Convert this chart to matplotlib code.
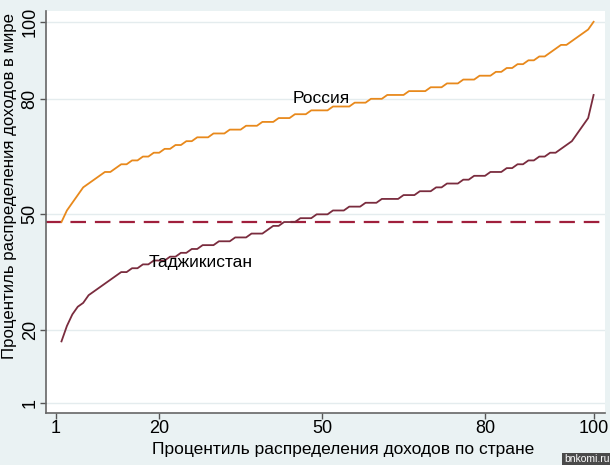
import numpy as np
import matplotlib
matplotlib.use('Agg')
import matplotlib.pyplot as plt

plt.rcParams['font.family'] = ['Liberation Sans', 'DejaVu Sans']

# country percentile (x) -> world percentile (y)
pct = list(range(2, 101))
russia = [48, 51, 53, 55, 57, 58, 59, 60, 61, 61, 62, 63, 63, 64, 64, 65, 65, 66, 66,
          67, 67, 68, 68, 69, 69, 70, 70, 70, 71, 71, 71, 72, 72, 72, 73, 73, 73, 74, 74,
          74, 75, 75, 75, 76, 76, 76, 77, 77, 77, 77, 78, 78, 78, 78, 79, 79, 79, 80, 80,
          80, 81, 81, 81, 81, 82, 82, 82, 82, 83, 83, 83, 84, 84, 84, 85, 85, 85, 86, 86,
          86, 87, 87, 88, 88, 89, 89, 90, 90, 91, 91, 92, 93, 94, 94, 95, 96, 97, 98, 100]
tajik = [17, 21, 24, 26, 27, 29, 30, 31, 32, 33, 34, 35, 35, 36, 36, 37, 37, 38, 38,
         38, 39, 39, 40, 40, 41, 41, 42, 42, 42, 43, 43, 43, 44, 44, 44, 45, 45, 45, 46,
         47, 47, 48, 48, 48, 49, 49, 49, 50, 50, 50, 51, 51, 51, 52, 52, 52, 53, 53, 53,
         54, 54, 54, 54, 55, 55, 55, 56, 56, 56, 57, 57, 58, 58, 58, 59, 59, 60, 60, 60,
         61, 61, 61, 62, 62, 63, 63, 64, 64, 65, 65, 66, 66, 67, 68, 69, 71, 73, 75, 81]
ref_level = 48
ticks = [1, 20, 50, 80, 100]

bg = '#eaf2f3'
fig = plt.figure(figsize=(6.1, 4.65), dpi=100, facecolor=bg)
ax = fig.add_axes([0.0754, 0.1118, 0.9164, 0.8645], facecolor='white')

ax.set_xlim(-0.85, 102.1)
ax.set_ylim(-1.6, 102.8)
for t in ticks:
    ax.axhline(t, color='#e4ecee', lw=1.0, zorder=0)

ax.plot(pct, russia, color='#e8891c', lw=1.3, zorder=3)
ax.plot(pct, tajik, color='#7a2c3e', lw=1.3, zorder=3)
ax.axhline(ref_level, color='#a01f3c', lw=1.6, dashes=(7, 4), zorder=2)

ax.text(44.5, 80, 'Россия', fontsize=12.5, va='center', ha='left', zorder=4)
ax.text(18, 37.5, 'Таджикистан', fontsize=12.5, va='center', ha='left', zorder=4)

ax.set_xticks(ticks)
ax.set_yticks(ticks)
ax.set_xticklabels([str(t) for t in ticks], fontsize=13)
ax.set_yticklabels([str(t) for t in ticks], fontsize=13, rotation=90, va='center')
ax.tick_params(axis='both', direction='out', length=4.3, width=1, color='#555555', pad=1)

for s in ['top', 'right']:
    ax.spines[s].set_visible(False)
for s in ['left', 'bottom']:
    ax.spines[s].set_color('#666666')
    ax.spines[s].set_linewidth(1.2)

fig.text(0.562, 0.034, 'Процентиль распределения доходов по стране', fontsize=12.5,
         ha='center', va='center')
fig.text(0.016, 0.228, 'Процентиль распределения доходов в мире', fontsize=12.1,
         rotation=90, ha='center', va='bottom')
fig.text(0.999, 0.002, 'bnkomi.ru', fontsize=7.5, color='white', ha='right', va='bottom',
         bbox=dict(boxstyle='square,pad=0.15', fc='#4a4a4a', ec='none'))

fig.savefig('out.png', dpi=100, facecolor=bg)
